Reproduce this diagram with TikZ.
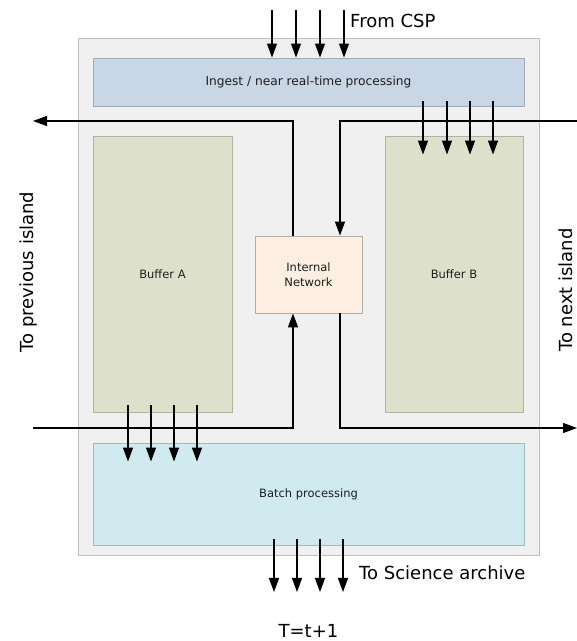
\documentclass[tikz,border=0pt]{standalone}
\usepackage{fontspec}
\setmainfont{DejaVu Sans}
\usetikzlibrary{arrows.meta,calc}
\definecolor{outerfill}{RGB}{240,240,240}
\definecolor{outerline}{RGB}{190,190,190}
\definecolor{ingestfill}{RGB}{200,214,230}
\definecolor{ingestline}{RGB}{160,172,188}
\definecolor{buffill}{RGB}{221,225,203}
\definecolor{bufline}{RGB}{175,180,160}
\definecolor{netfill}{RGB}{253,238,226}
\definecolor{netline}{RGB}{180,172,165}
\definecolor{batchfill}{RGB}{209,234,240}
\definecolor{batchline}{RGB}{160,184,192}
\definecolor{txt}{RGB}{30,30,30}
\tikzset{
  box/.style={draw, line width=0.9pt, inner sep=0pt, font=\fontsize{11.5}{14.5}\selectfont, text=txt, align=center},
  arr/.style={line width=1.2pt, -{Triangle[length=14pt,width=10pt]}},
  bigtext/.style={font=\fontsize{18}{21}\selectfont, text=black, inner sep=0pt}
}
\begin{document}
\begin{tikzpicture}[x=1pt,y=1pt]
\useasboundingbox (0,0) rectangle (577,641);
\fill[white] (0,0) rectangle (577,641);
% outer island
\node[draw=outerline, fill=outerfill, line width=1pt, minimum width=461pt, minimum height=517pt, inner sep=0pt] (island) at (308.5,343.5) {};
% boxes
\node[box, draw=ingestline, fill=ingestfill, minimum width=431pt, minimum height=48pt, font=\fontsize{12.2}{14}\selectfont] (ingest) at (308.5,559) {Ingest / near real-time processing};
\node[box, draw=bufline, fill=buffill, minimum width=139pt, minimum height=276pt] (bufA) at (162.5,367) {Buffer A};
\node[box, draw=bufline, fill=buffill, minimum width=138pt, minimum height=276pt] (bufB) at (454,367) {Buffer B};
\node[box, draw=netline, fill=netfill, minimum width=107pt, minimum height=77pt] (net) at (308.5,366.5) {Internal\\Network};
\node[box, draw=batchline, fill=batchfill, minimum width=431pt, minimum height=102pt] (batch) at (308.5,147) {Batch processing};
% labels
\node[bigtext, anchor=base west] (fromcsp) at (350,613) {From CSP};
\node[bigtext, anchor=base west] (toarch) at (359,61) {To Science archive};
\node[bigtext, anchor=base] (tt) at (308.5,3) {T=t+1};
\node[bigtext, rotate=90, anchor=north] (prevlbl) at (20,369) {To previous island};
\node[bigtext, rotate=90, anchor=north] (nextlbl) at (559,351) {To next island};
% free ends
\coordinate (prevTop) at (33,520);
\coordinate (nextTop) at (577,520);
\coordinate (prevBot) at (33,213);
\coordinate (nextBot) at (577,213);
% inter-island connectors via internal network
\draw[arr] ([xshift=-15.5pt]net.north) |- (prevTop);
\draw[arr] (nextTop) -| ([xshift=31.5pt]net.north);
\draw[arr] (prevBot) -| ([xshift=-15.5pt]net.south);
\draw[arr] ([xshift=31.5pt]net.south) |- (nextBot);
% from CSP into ingest
\foreach \x [count=\i] in {272,296,320,344}{
  \coordinate (csp\i) at (\x,631);
  \draw[arr] (csp\i) -- (csp\i |- ingest.north);
}
% ingest to buffer B
\foreach \x in {423,447,470,493}{
  \draw[arr] ($(ingest.south)+(\x-308.5,5)$) -- ($(bufB.north)+(\x-454,-19)$);
}
% buffer A to batch
\foreach \x in {128,151,174,197}{
  \draw[arr] ($(bufA.south)+(\x-162.5,7)$) -- ($(batch.north)+(\x-308.5,-19)$);
}
% batch to archive
\foreach \x [count=\i] in {274,297,320,343}{
  \coordinate (arc\i) at (\x,49);
  \draw[arr] ($(batch.south)+(\x-308.5,6)$) -- (arc\i);
}
\end{tikzpicture}
\end{document}
